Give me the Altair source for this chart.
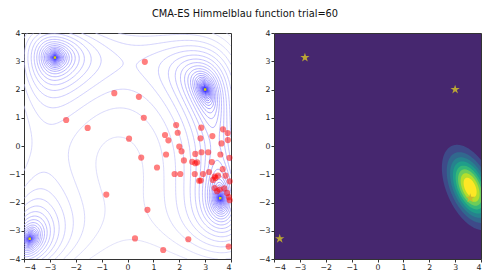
import numpy as np
import pandas as pd
import altair as alt
from collections import defaultdict

alt.data_transformers.disable_max_rows()

TITLE = "CMA-ES Himmelblau function trial=60"
TICKS = [-4, -3, -2, -1, 0, 1, 2, 3, 4]

trial_x = [0.06, 1.45, 1.58, 1.94, 2.82, 3.28, 3.63, 3.88, 0.53, 1.49,
           2.00, 2.09, 2.18, 2.62, 2.86, 3.12, 2.50, 2.62, 2.69, 3.26,
           3.59, 3.94, 1.14, 1.82, 2.04, 2.60, 2.92, 3.15, 3.37, 3.40,
           3.68, 3.79, 2.77, 3.95, 3.37, 3.46, 3.56, 3.74, 3.85, 3.92,
           -0.82, 0.77, 0.29, 2.35, 1.38, 3.91, 0.67, -0.51, 0.44, -2.37,
           -1.54, 0.63, 1.88, 2.85, 3.69, 3.87, 2.83, 3.95, 3.50, 3.30]
trial_y = [0.26, 0.39, 0.20, 0.47, 0.27, 0.35, 0.09, 0.21, -0.41, -0.30,
           -0.02, -0.19, -0.51, -0.28, -0.22, -0.22, -0.56, -0.61, -0.58, -0.57,
           -0.30, -0.42, -0.76, -0.99, -0.99, -0.99, -0.99, -0.92, -1.08, -1.13,
           -0.82, -1.05, -1.23, -1.25, -1.49, -1.60, -1.54, -1.50, -1.66, -1.81,
           -1.72, -2.26, -3.27, -3.30, -3.68, -3.56, 2.98, 1.87, 1.74, 0.92,
           0.64, 1.00, 0.74, 0.65, 0.59, 0.46, -1.22, -1.92, -1.05, -1.20]

# known minima of the Himmelblau function
minima_x = [3.0, -2.805, -3.779, 3.584]
minima_y = [2.0, 3.131, -3.283, -1.848]

# contour levels of log(f)
contour_levels = [round(v, 3) for v in np.arange(-3.0, 5.45, 0.3)]
LINE_COLORS = ["#0000ff", "#d5d5f7"]

# sampling distribution (right panel)
GAUSS_MEAN = (3.58, -1.47)
GAUSS_SD = (0.52, 0.72)
GAUSS_RHO = -0.46
BAND_FRACTIONS = [0.11, 0.22, 0.33, 0.44, 0.56, 0.67, 0.78, 0.89]
BAND_COLORS = ["#3e4a89", "#31688e", "#26828e", "#1f9e89",
               "#35b779", "#6dcd59", "#b4de2c", "#fde725"]
BG_COLOR = "#46276f"
STAR_COLOR = "#c8b52e"
STAR_PATH = ("M0,-1L0.2245,-0.309L0.951,-0.309L0.3633,0.118L0.588,0.809L0,0.382"
             "L-0.588,0.809L-0.3633,0.118L-0.951,-0.309L-0.2245,-0.309Z")

# ---------- contour polylines (marching squares) ----------
gx = np.linspace(-4, 4, 161)
gy = np.linspace(-4, 4, 161)
GX, GY = np.meshgrid(gx, gy)
F = (GX ** 2 + GY - 11) ** 2 + (GX + GY ** 2 - 7) ** 2
Z = np.log(np.maximum(F, 1e-4))


def hpt(i, j, lev):
    z1, z2 = Z[i, j], Z[i, j + 1]
    t = (lev - z1) / (z2 - z1)
    return (gx[j] + t * (gx[j + 1] - gx[j]), gy[i])


def vpt(i, j, lev):
    z1, z2 = Z[i, j], Z[i + 1, j]
    t = (lev - z1) / (z2 - z1)
    return (gx[j], gy[i] + t * (gy[i + 1] - gy[i]))


line_rows = []
pid = 0
for lev in contour_levels:
    A = Z > lev
    Hc = A[:, :-1] != A[:, 1:]
    Vc = A[:-1, :] != A[1:, :]
    segs = []
    cells = np.nonzero(Hc[:-1, :] | Hc[1:, :] | Vc[:, :-1] | Vc[:, 1:])
    for i, j in zip(*cells):
        e = []
        if Hc[i, j]:
            e.append(("h", i, j))
        if Vc[i, j + 1]:
            e.append(("v", i, j + 1))
        if Hc[i + 1, j]:
            e.append(("h", i + 1, j))
        if Vc[i, j]:
            e.append(("v", i, j))
        if len(e) == 2:
            segs.append((e[0], e[1]))
        elif len(e) == 4:
            segs.append((e[0], e[1]))
            segs.append((e[2], e[3]))
    adj = defaultdict(list)
    for s, (k1, k2) in enumerate(segs):
        adj[k1].append(s)
        adj[k2].append(s)
    used = [False] * len(segs)

    def walk(cur):
        out = []
        while True:
            nxt = [t for t in adj[cur] if not used[t]]
            if not nxt:
                return out
            t = nxt[0]
            used[t] = True
            a_, b_ = segs[t]
            cur = b_ if a_ == cur else a_
            out.append(cur)

    for s in range(len(segs)):
        if used[s]:
            continue
        used[s] = True
        k1, k2 = segs[s]
        fwd = walk(k2)
        back = walk(k1)
        chain = back[::-1] + [k1, k2] + fwd
        for o, k in enumerate(chain):
            if k[0] == "h":
                px, py = hpt(k[1], k[2], lev)
            else:
                px, py = vpt(k[1], k[2], lev)
            line_rows.append((pid, o, round(float(px), 3), round(float(py), 3), float(lev)))
        pid += 1

line_df = pd.DataFrame(line_rows, columns=["pid", "o", "x", "y", "level"])
trial_df = pd.DataFrame({"x": trial_x, "y": trial_y})
min_df = pd.DataFrame({"x": minima_x, "y": minima_y})

W, H = 207, 226
xs = alt.Scale(domain=[-4, 4], nice=False, zero=False)
ys = alt.Scale(domain=[-4, 4], nice=False, zero=False)
ax = alt.Axis(values=TICKS, grid=False, tickSize=3, labelPadding=1,
              labelFontSize=7.8, labelFont="DejaVu Sans", labelColor="#222",
              tickColor="#333", domain=False, title=None, labelOverlap=False)

lines = alt.Chart(line_df).mark_line(strokeWidth=0.9, opacity=0.8, clip=True).encode(
    x=alt.X("x:Q", scale=xs, axis=ax),
    y=alt.Y("y:Q", scale=ys, axis=ax),
    detail="pid:N",
    order="o:Q",
    color=alt.Color("level:Q", scale=alt.Scale(domain=[contour_levels[0], contour_levels[-1]],
                                               range=LINE_COLORS), legend=None),
)
mins_left = alt.Chart(min_df).mark_point(shape="square", filled=True, size=6,
                                          color="#d8d800", opacity=1).encode(
    x=alt.X("x:Q", scale=xs, axis=ax), y=alt.Y("y:Q", scale=ys, axis=ax))
pts = alt.Chart(trial_df).mark_circle(size=38, color="#ff0000", opacity=0.5).encode(
    x=alt.X("x:Q", scale=xs, axis=ax), y=alt.Y("y:Q", scale=ys, axis=ax))

left = alt.layer(lines, mins_left, pts).properties(width=W, height=H)

# ---------- right panel: nested ellipses of the distribution ----------
mx, my = GAUSS_MEAN
sx, sy = GAUSS_SD
theta = np.linspace(0, np.pi, 90)
band_layers = []
for frac, col in zip(BAND_FRACTIONS, BAND_COLORS):
    r = np.sqrt(-2 * np.log(frac))
    t = np.cos(theta)
    yy = my + r * sy * t
    xc = mx + GAUSS_RHO * sx * r * t
    half = r * np.sqrt(np.clip(1 - t ** 2, 0, None)) * sx * np.sqrt(1 - GAUSS_RHO ** 2)
    edf = pd.DataFrame({"y": np.round(yy, 4), "xl": np.round(xc - half, 4),
                        "xr": np.round(xc + half, 4)})
    band_layers.append(
        alt.Chart(edf).mark_area(orient="horizontal", clip=True, color=col).encode(
            y=alt.Y("y:Q", scale=ys, axis=ax),
            x=alt.X("xl:Q", scale=xs, axis=ax),
            x2="xr:Q",
        )
    )
stars = alt.Chart(min_df).mark_point(shape=STAR_PATH, filled=True, size=95,
                                     color=STAR_COLOR, opacity=0.9).encode(
    x=alt.X("x:Q", scale=xs, axis=ax), y=alt.Y("y:Q", scale=ys, axis=ax))

right = alt.layer(*band_layers, stars).properties(
    width=W, height=H, view=alt.ViewBackground(fill=BG_COLOR))

chart = alt.hconcat(left, right, spacing=24).properties(
    title=alt.TitleParams(TITLE, fontSize=9.8, font="DejaVu Sans", fontWeight="normal",
                          anchor="middle", color="#111", offset=10),
    padding={"left": 0, "top": 0, "right": 0, "bottom": 0},
).configure_view(stroke="#333", strokeWidth=1)

chart.save("out.html", embed_options={"renderer": "svg", "actions": False})
